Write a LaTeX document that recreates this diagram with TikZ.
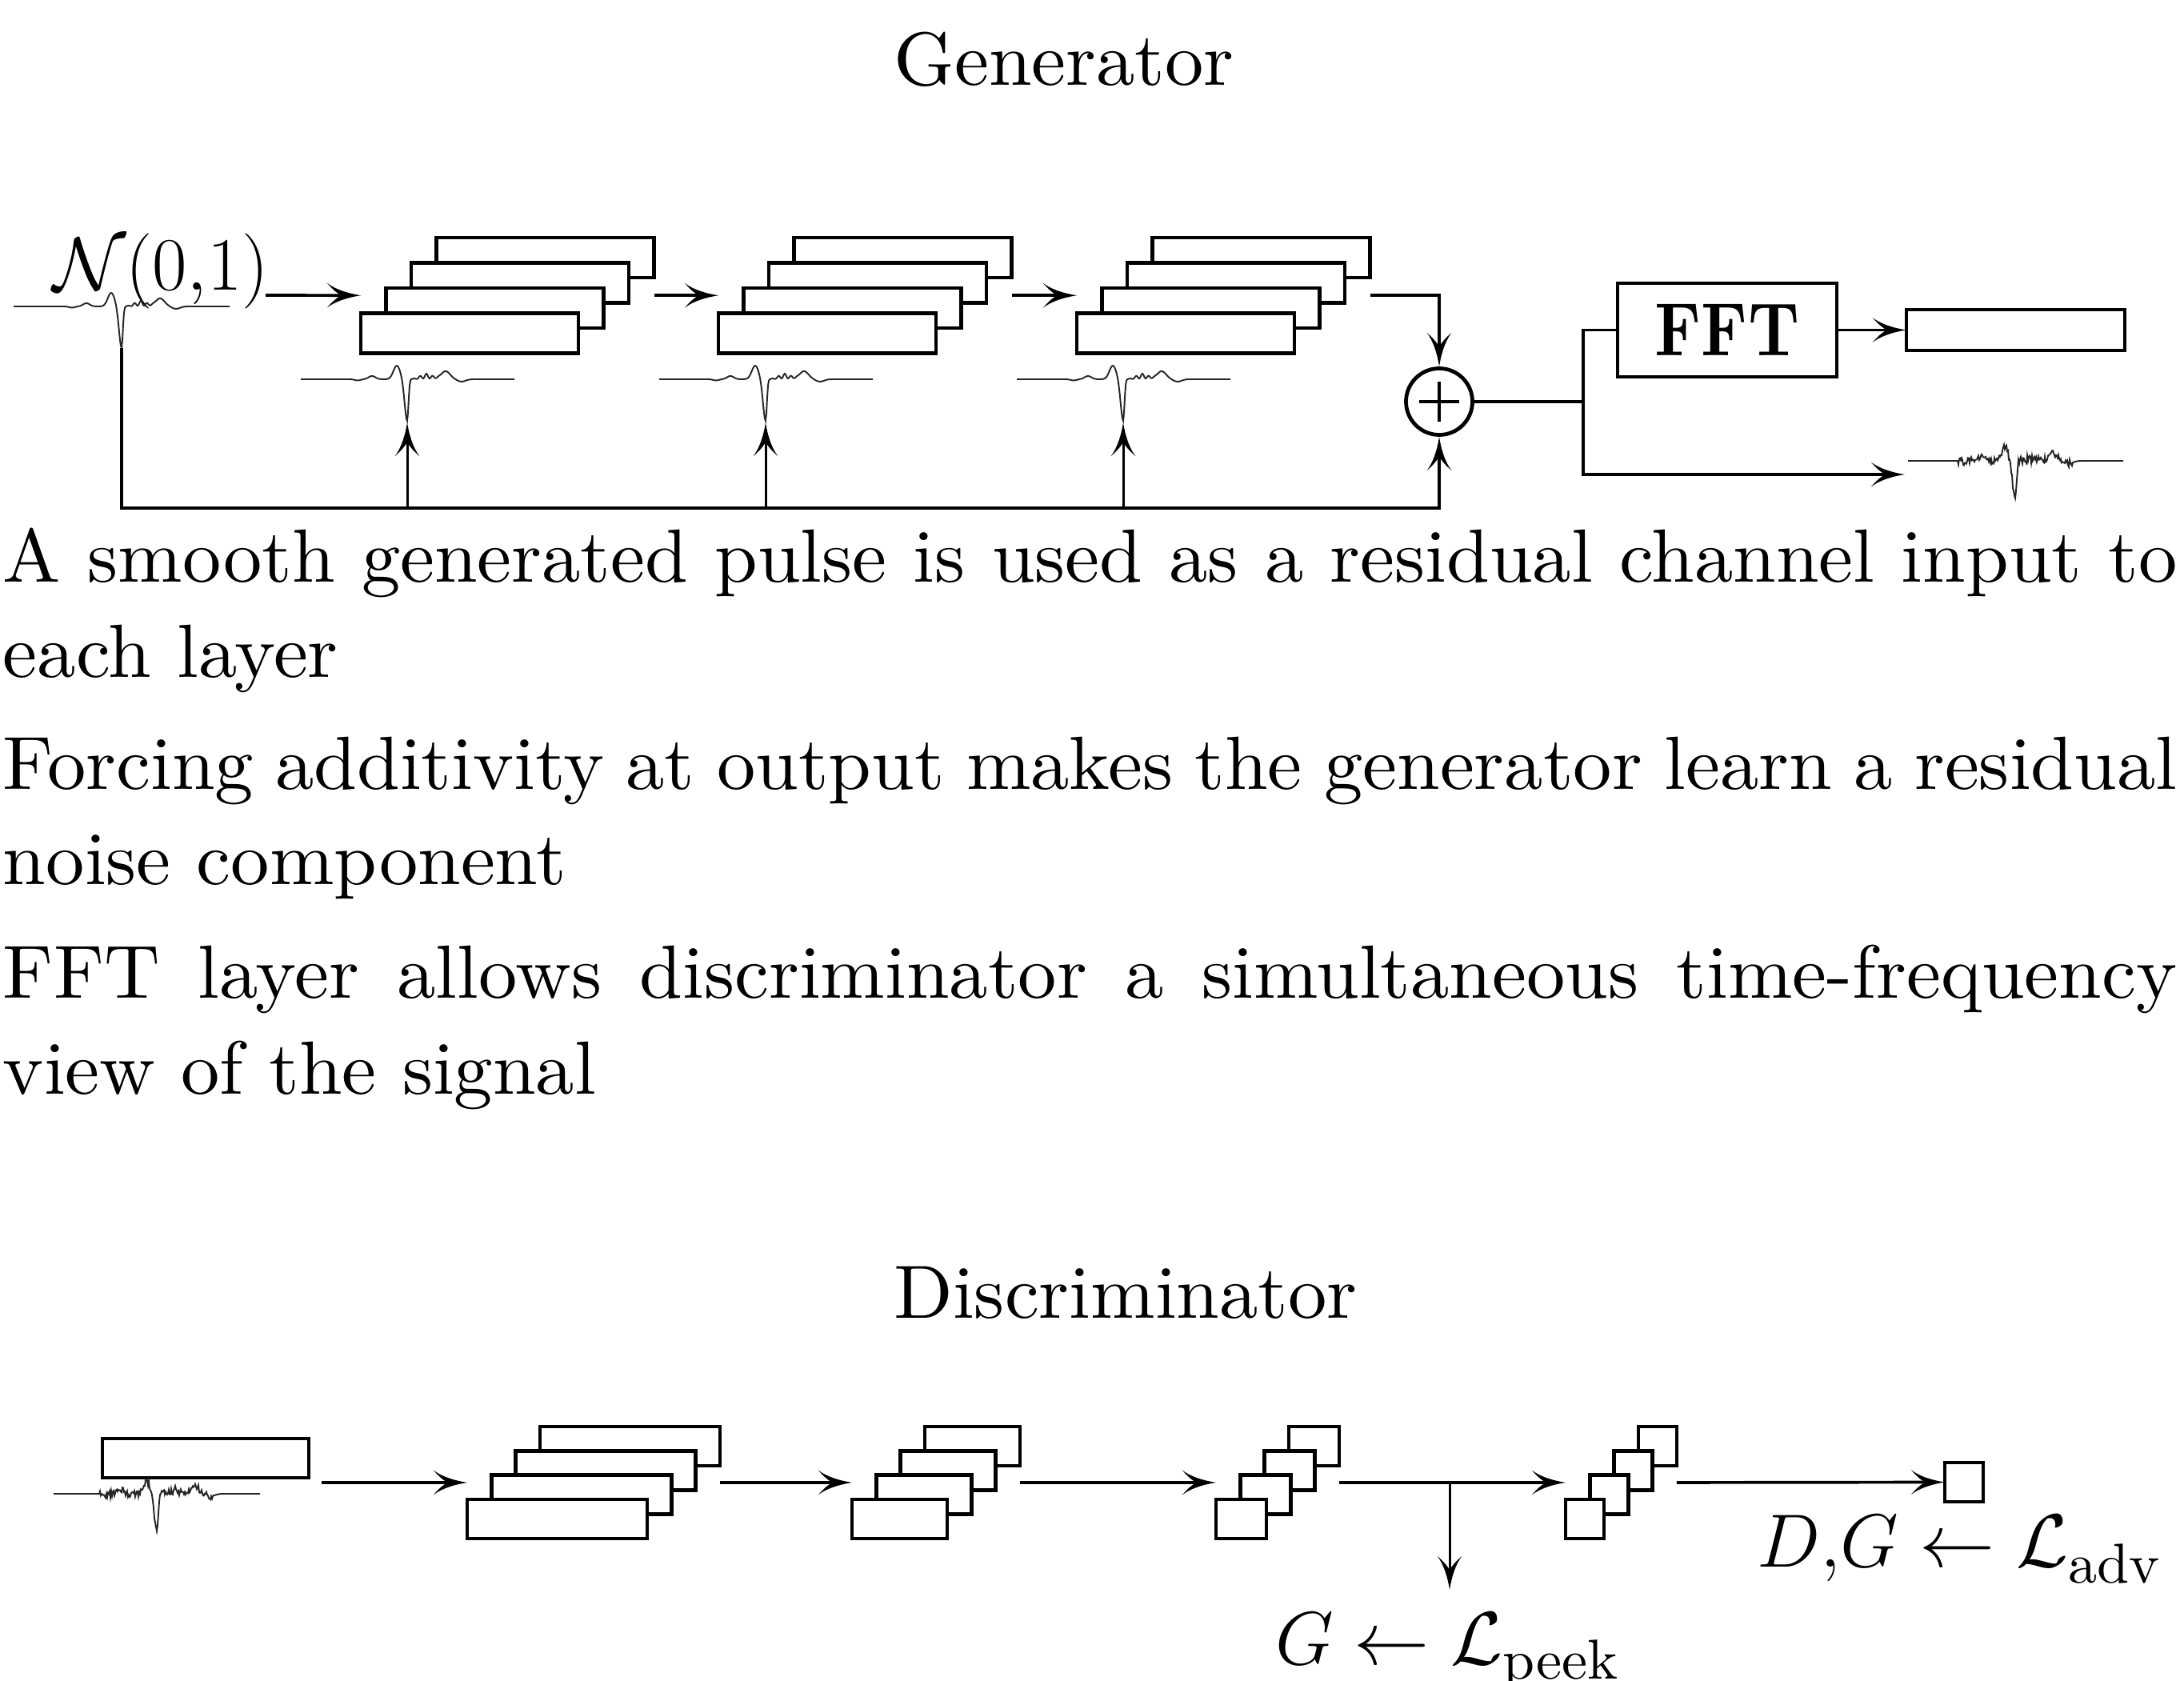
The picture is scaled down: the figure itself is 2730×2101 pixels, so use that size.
\documentclass[tikz,border=0pt]{standalone}
\usepackage{fix-cm}
\usepackage{amsmath}
\usepackage{fontspec}
\setmainfont{lmroman10-regular.otf}[
  FakeStretch=1.025,
  BoldFont=lmroman10-bold.otf,
  ItalicFont=lmroman10-italic.otf]
\usetikzlibrary{arrows.meta}

% Arrow head with concave flanks
\pgfdeclarearrow{
  name=Horn,
  setup code={
    \pgfarrowssettipend{0pt}
    \pgfarrowssetbackend{-12pt}
    \pgfarrowssetlineend{-6pt}
    \pgfarrowssetvisualbackend{-7pt}
    \pgfarrowshullpoint{0pt}{0pt}
    \pgfarrowshullpoint{-12pt}{4.4pt}
    \pgfarrowshullpoint{-12pt}{-4.4pt}
  },
  drawing code={
    \pgfpathmoveto{\pgfqpoint{0pt}{0pt}}
    \pgfpathcurveto{\pgfqpoint{-4pt}{0.6pt}}{\pgfqpoint{-9pt}{2pt}}{\pgfqpoint{-12pt}{4.4pt}}
    \pgfpathcurveto{\pgfqpoint{-9.5pt}{1.5pt}}{\pgfqpoint{-8pt}{0.6pt}}{\pgfqpoint{-7pt}{0pt}}
    \pgfpathcurveto{\pgfqpoint{-8pt}{-0.6pt}}{\pgfqpoint{-9.5pt}{-1.5pt}}{\pgfqpoint{-12pt}{-4.4pt}}
    \pgfpathcurveto{\pgfqpoint{-9pt}{-2pt}}{\pgfqpoint{-4pt}{-0.6pt}}{\pgfqpoint{0pt}{0pt}}
    \pgfpathclose
    \pgfusepathqfill
  }
}

% A stack of four feature maps, drawn back to front.
% #1 name, #2 left x of front map, #3 top y of back map, #4 width, #5 height, #6 step
\newcommand\layerstack[6]{%
  \foreach \k in {3,2,1,0}{%
    \node[layer, anchor=north west, minimum width={#4*0.01cm}, minimum height={#5*0.01cm}]
      (#1-\k) at ({#2+\k*#6},{#3+(3-\k)*#6}) {};
  }%
  \node[inner sep=0pt, outer sep=0pt, anchor=north west,
        minimum width={(#4+3*#6)*0.01cm}, minimum height={(#5+3*#6)*0.01cm}]
    (#1) at (#2,#3) {};%
}

\begin{document}
\begin{tikzpicture}[x=0.01cm, y=-0.01cm,
  >={Horn},
  layer/.style={draw, fill=white, line width=1.3pt, inner sep=0pt, outer sep=0pt},
  wire/.style={line width=1.05pt},
  rail/.style={line width=1.35pt},
  thinwire/.style={line width=0.85pt},
  wave/.style={line width=0.55pt, black!85},
  body/.style={inner sep=0pt, outer sep=0pt, anchor=base west,
               font=\fontsize{26.8pt}{33.9pt}\selectfont},
  declare function={
    pulse(\x) = ((\x<0) ? (52*exp(-min((\x/4.5)^2,30))) : (52*exp(-min((\x/2.2)^2,30))))
      - 17*exp(-min(((\x+13)/6)^2,30))
      - 4*exp(-min(((\x+44)/6)^2,30))
      + 1.5*exp(-min(((\x+62)/5)^2,30))
      - (4+3*sin(45*(\x-6)))*exp(-min(((\x-24)/11)^2,30))
      - 10*exp(-min(((\x-48)/8)^2,30))
      + 3*exp(-min(((\x-68)/7)^2,30));
    nz(\x) = ((abs(\x)<72) ? 5 : 0);
  }]
\useasboundingbox (0,0) rectangle (2730,2101);
\pgfmathsetseed{42}

% ---------------- Generator ----------------
\node[body, anchor=base] (gtitle) at (1330,107) {Generator};

\node[body] (noise) at (66,363) {$\mathcal{N}(0{,}1)$};
\draw[wave, shift={(152,383)}] plot[domain=-135:135, samples=271] (\x,{pulse(\x)});
\coordinate (w0) at (152,435);
\coordinate (nin) at (332,369);

\layerstack{g1}{451}{297}{272}{50}{31.5}
\layerstack{g2}{898}{297}{272}{50}{31.5}
\layerstack{g3}{1346}{297}{272}{50}{31.5}

% residual copies of the smooth pulse
\foreach \d/\n in {509/w1, 957/w2, 1404/w3}{
  \draw[wave, shift={(\d,474)}] plot[domain=-133:134, samples=268] (\x,{pulse(\x)});
  \coordinate (\n) at (\d,528);
}

\node[draw, circle, line width=1.35pt, minimum size=0.83cm, inner sep=0pt] (plus) at (1799,502) {};
\draw[line width=1.2pt] ([xshift=-0.25cm]plus.center) -- ([xshift=0.25cm]plus.center)
                        ([yshift=-0.25cm]plus.center) -- ([yshift=0.25cm]plus.center);

\draw[wire, ->] (nin) -- (g1.west);
\draw[wire, ->] (g1.east) -- (g2.west);
\draw[wire, ->] (g2.east) -- (g3.west);
\draw[wire, ->] (g3.east) -| (plus.north);

\coordinate (rail) at (152,635);
\draw[rail, ->] (w0) -- (rail) -| (plus.south);
\foreach \n in {w1,w2,w3}{
  \draw[thinwire, ->] (\n |- rail) -- (\n);
}

\node[draw, line width=1.35pt, minimum width=2.74cm, minimum height=1.17cm, inner sep=0pt,
      font=\fontsize{26.8pt}{30pt}\selectfont\bfseries] (fft) at (2159,412.5)
  {\scalebox{0.83}[1]{FFT}};
\node[layer, minimum width=2.73cm, minimum height=0.51cm] (spec) at (2519.5,412.5) {};

\coordinate (jn) at (1979,502);
\coordinate (wout) at (2381,593);
\draw[wire] (plus.east) -- (jn);
\draw[wire] (jn) |- (fft.west);
\draw[wire, ->] (jn) |- (wout);
\draw[wire, ->] (fft.east) -- (spec.west);
\draw[wave, shift={(2519,576)}, yscale=0.96] plot[domain=-134:135, samples=270] (\x,{pulse(\x)+nz(\x)*rand});

% ---------------- Notes ----------------
\node[body] (p1a) at (4,728) {\makebox[27.16cm][s]{A smooth generated pulse is used as a residual channel input to}};
\node[body] (p1b) at (4,847) {each layer};
\node[body] (p2a) at (4,987) {\makebox[27.16cm][s]{Forcing additivity at output makes the generator learn a residual}};
\node[body] (p2b) at (4,1106) {noise component};
\node[body] (p3a) at (4,1247) {\makebox[27.16cm][s]{FFT layer allows discriminator a simultaneous time-frequency}};
\node[body] (p3b) at (4,1367) {view of the signal};

% ---------------- Discriminator ----------------
\node[body, anchor=base] (dtitle) at (1407,1647) {Discriminator};

\node[layer, anchor=north west, minimum width=2.58cm, minimum height=0.49cm] (din) at (128,1798) {};
\draw[wave, shift={(196,1867)}, yscale=0.92] plot[domain=-129:129, samples=259] (\x,{pulse(\x)+nz(\x)*rand});
\coordinate (dstart) at (402,1853);

\layerstack{d1}{584}{1783}{225}{49}{30.3}
\layerstack{d2}{1065}{1783}{119}{49}{30.3}
\layerstack{d3}{1520}{1783}{63}{49}{30.3}
\layerstack{d4}{1957}{1783}{48}{49}{30.3}
\node[layer, minimum width=0.48cm, minimum height=0.49cm] (dout) at (2455,1852.5) {};

\draw[wire, ->] (dstart) -- (d1.west);
\draw[wire, ->] (d1.east) -- (d2.west);
\draw[wire, ->] (d2.east) -- (d3.west);
\draw[wire, ->] (d3.east) -- (d4.west);
\draw[wire, ->] (d4.east) -- (dout.west);

\coordinate (tap) at (1812,1853);
\coordinate (pkend) at (1812,1987);
\draw[thinwire, ->] (tap) -- (pkend);

\node[body] (lpeek) at (1594,2080)
  {$G \leftarrow \mathcal{L}$\raisebox{-0.18cm}{\fontsize{20pt}{20pt}\selectfont peek}};
\node[body] (ladv) at (2196,1958)
  {$D{,}G \leftarrow \mathcal{L}$\raisebox{-0.2cm}{\fontsize{20pt}{20pt}\selectfont adv}};
\end{tikzpicture}
\end{document}
